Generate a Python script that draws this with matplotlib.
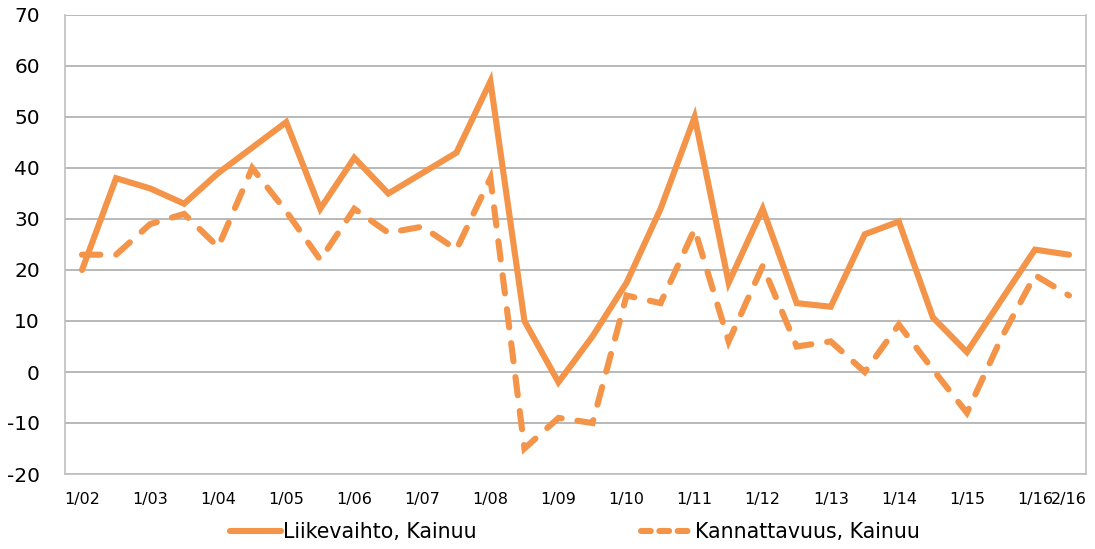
import matplotlib
matplotlib.use("Agg")
import matplotlib.pyplot as plt
from matplotlib.lines import Line2D

plt.rcParams["axes.unicode_minus"] = False

years = ["02", "03", "04", "05", "06", "07", "08", "09", "10", "11", "12", "13", "14", "15", "16"]
categories = [f"{h}/{y}" for y in years for h in (1, 2)]

liikevaihto = [20, 38, 36, 33, 39, 44, 49, 32, 42, 35, 39, 43, 57, 10, -2,
               7, 17.5, 32, 50, 17.5, 32, 13.5, 12.8, 27, 29.5, 10.7, 3.9, 14, 24, 23]
kannattavuus = [23, 23, 29, 31, 24.5, 40, 31.5, 22, 32, 27.3, 28.5, 24, 38, -15, -9,
                -10, 15, 13.5, 28, 6, 20.8, 5, 6, 0, 9.3, 0.5, -8, 6.5, 19, 15]

series_names = ["Liikevaihto, Kainuu", "Kannattavuus, Kainuu"]
color = "#F39449"
grid_color = "#A6A6A6"
spine_color = "#BFBFBF"

fig = plt.figure(figsize=(10.95, 5.49), dpi=100)
ax = fig.add_axes([65/1095, 1-474/549, (1086-65)/1095, (474-15)/549])

x = list(range(len(categories)))
lw = 4.4
ax.plot(x, liikevaihto, color=color, lw=lw, solid_capstyle="round", solid_joinstyle="miter")
ax.plot(x, kannattavuus, color=color, lw=lw, dashes=(3.0, 2.6), dash_capstyle="round",
        dash_joinstyle="miter")

ax.set_xlim(-0.5, len(categories) - 0.5)
ax.set_ylim(-20, 70)
ax.set_yticks(range(-20, 71, 10))
ax.yaxis.grid(True, color=grid_color, lw=1.1)
ax.set_axisbelow(True)

ticks = list(range(0, len(categories), 2)) + [len(categories) - 1]
ax.set_xticks(ticks)
ax.set_xticklabels([categories[i] for i in ticks], fontsize=11.5)
ax.tick_params(axis="x", length=0, pad=13)
ax.tick_params(axis="y", length=0, pad=18, labelsize=14.5)

ax.spines["top"].set_visible(False)
for s in ("left", "bottom", "right"):
    ax.spines[s].set_color(spine_color)
    ax.spines[s].set_linewidth(1.2)

h1 = Line2D([], [], color=color, lw=lw, solid_capstyle="round")
h2 = Line2D([], [], color=color, lw=lw, dashes=(1.6, 1.4), dash_capstyle="round")
fig.legend([h1, h2], series_names, loc="center", bbox_to_anchor=(0.525, 1-532/549),
           ncol=2, frameon=False, fontsize=14.8, handlelength=2.5, handletextpad=0.1,
           columnspacing=8.0)

fig.savefig("out.png", dpi=100)
